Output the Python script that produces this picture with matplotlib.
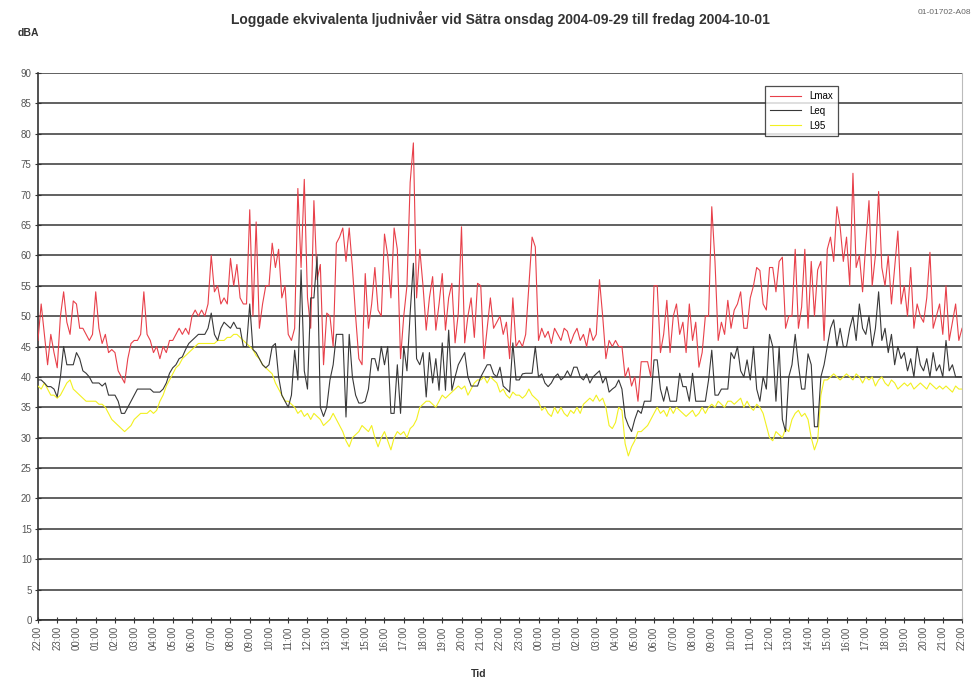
import matplotlib
matplotlib.use("Agg")
import matplotlib.pyplot as plt
import numpy as np

plt.rcParams['font.family'] = ['Liberation Sans', 'DejaVu Sans']

title = "Loggade ekvivalenta ljudnivåer vid Sätra onsdag 2004-09-29 till fredag 2004-10-01"
doc_id = "01-01702-A08"
y_label = "dBA"
x_label = "Tid"
series_names = ["Lmax", "Leq", "L95"]
hour_labels = [f"{(22 + h) % 24:02d}:00" for h in range(49)]

# 10-minute samples, 6 per hour, starting 22:00
lmax = [
    46, 52, 47, 42, 47, 44,
    41.5, 50, 54, 49, 47, 52.5,
    52, 48, 48, 47, 46, 47,
    54, 48, 45.5, 47, 44, 44.5,
    44, 41, 40, 39, 43, 45.5,
    46, 46, 47, 54, 47, 46,
    44, 45, 43, 45, 44, 46,
    46, 47, 48, 47, 48, 47,
    50, 51, 50, 51, 50, 52,
    60, 54, 55, 52, 53, 52,
    59.5, 55, 58.5, 53, 52, 52,
    67.5, 50, 65.5, 48, 52, 55,
    55, 62, 58, 61, 53, 55,
    47, 46, 48, 71, 58, 72.5,
    53, 48, 69, 56, 58.5, 42,
    50.5, 50, 45, 62, 63, 64.5,
    59, 64.5, 58, 50, 43, 42,
    57, 48, 52, 58, 51, 50,
    63.5, 60, 53, 64.5, 61, 43,
    50, 55, 72, 78.5, 53, 61,
    55, 47.7, 53, 56.5, 47.7, 52,
    57, 47.7, 53, 55.4, 45.6, 50.5,
    64.7, 45.6, 50, 53, 46.5, 55.4,
    55, 43, 48, 53, 48, 49,
    50, 47, 49, 43, 53, 45,
    46, 45, 47, 55, 63, 61.4,
    46, 48, 46.5, 47.5, 45.5, 48,
    47, 46, 48, 47.5, 45.5, 47,
    48, 46, 47, 45, 48, 46,
    47, 56, 50, 43, 46, 45,
    46, 45, 45, 40, 41.5, 38.5,
    40, 36, 42.5, 42.5, 42.5, 40,
    55, 55, 44, 47, 52.6, 44,
    50, 52, 47, 49, 44, 52,
    46, 49, 41.6, 44, 50, 50,
    68, 59, 46, 49, 47, 52.6,
    48, 51, 52, 54, 48, 48,
    53, 55, 58, 57.5, 52, 51,
    58, 58, 54, 59, 59.7, 48,
    50, 50, 61, 48, 51.5, 61,
    48, 59, 50, 57.6, 59, 46,
    61, 63, 59, 68, 64.7, 59,
    63, 55, 73.5, 58, 60, 54,
    62, 69, 55, 60, 70.5, 58,
    55, 60, 52, 58, 64, 52,
    55, 50, 58, 48, 52, 50,
    49, 53, 60.5, 48, 50, 52,
    47, 55, 46, 49, 52, 46,
    48,
]

leq = [
    39.5, 39.5, 39, 38.4, 38.4, 38,
    36.7, 40, 45, 42, 42, 42,
    44, 43, 41, 40.6, 40, 39,
    39, 39, 38.5, 39, 37, 37,
    37, 36, 34, 34, 35, 36,
    37, 38, 38, 38, 38, 38,
    37.5, 37.5, 37.5, 38, 39, 40.6,
    41.5, 42, 43, 43.3, 44.5, 45.5,
    46, 46.5, 47, 47, 47, 48,
    50.5, 47, 46, 48, 49, 48.5,
    48, 49, 48, 48, 45, 45,
    52, 44.5, 44, 43, 42, 41.5,
    42, 45, 45.5, 40, 37, 36,
    35, 37, 44.4, 39.5, 57.6, 41,
    38, 53, 53, 59.8, 35, 33.5,
    35, 39.5, 42, 47, 47, 47,
    33.4, 47, 40, 37, 35.7, 35.7,
    36, 38, 43, 43, 41, 45,
    42, 45, 34, 34, 42, 34,
    45, 41, 50.5, 58.7, 43, 42,
    44, 36.7, 44, 39, 43, 37.8,
    45.6, 37.8, 47.7, 37.8, 40, 42,
    43, 44, 40, 38.5, 38.5, 38.5,
    40, 41, 42, 42, 40.5, 40,
    41.6, 38.5, 38, 37.5, 45.6, 39.5,
    39.5, 40.5, 40.6, 40.6, 40.6, 45,
    40, 40.5, 39, 38.4, 39, 40,
    40.5, 39.5, 40, 41, 40, 41.6,
    41.6, 40, 39.5, 40.5, 39, 40,
    40.5, 41, 39, 40, 37.5, 38,
    38.4, 39.5, 38, 33.4, 32, 31,
    33, 34.5, 34, 36, 36, 36,
    42.8, 42.8, 38, 36, 38.4, 36,
    36, 36, 40.6, 38.4, 38.4, 36,
    40.6, 36, 36, 36, 36, 39.5,
    44.4, 37, 37, 38, 38, 38,
    44, 43, 45, 41, 40, 42.8,
    39.5, 45, 38, 36, 40, 38,
    47, 45, 36, 45, 33, 31,
    40, 42, 47, 42, 38, 38,
    43.8, 42, 31.8, 31.8, 40, 42,
    45, 48, 49.4, 45, 48, 45,
    45, 48, 50, 46, 52, 48,
    47, 50, 45, 48, 54, 46,
    48, 44, 47, 42, 45, 43,
    44, 41, 43, 40, 45, 42,
    41, 43, 40, 44, 41, 42,
    40, 46, 41, 42, 40, 40,
    40,
]

l95 = [
    38.5, 38, 39, 38, 37, 37,
    36.5, 37, 38, 39, 39.5, 38,
    37.5, 37, 36.5, 36, 36, 36,
    36, 35.5, 35.5, 35, 34, 33,
    32.5, 32, 31.5, 31, 31.5, 32,
    33, 33.5, 34, 34, 34, 34.5,
    34, 34.5, 36, 37, 38.5, 39.5,
    40.5, 41.5, 42, 43, 43.5, 44,
    44.5, 45, 45.5, 45.5, 45.5, 45.5,
    45.5, 45.5, 46, 46, 46, 46.5,
    46.5, 47, 47, 46.5, 46, 45.5,
    45, 44.5, 43.5, 43, 42, 41.5,
    41, 40.5, 39, 38, 37, 36,
    36, 35.5, 35, 34, 34.5, 33.5,
    34, 33, 34, 33.5, 33, 32,
    32.5, 33, 34, 33, 32, 31,
    29.5, 28.5, 30, 30.5, 31, 32,
    31.5, 31, 32, 30, 28.5, 30,
    31, 29.5, 28, 30, 31, 30.5,
    31, 30, 31.5, 32, 33, 35,
    35.5, 36, 36, 35.5, 35, 36,
    37, 36.5, 37, 37.5, 38, 38.5,
    38, 38.5, 37, 38, 39, 39.5,
    39.5, 40, 39, 40, 39.5, 39,
    37.5, 38, 37, 36.5, 37.5, 37,
    37, 36.5, 37, 38, 37, 36.5,
    36, 34.5, 35, 34, 33.5, 35,
    34, 35, 34, 33.5, 34.5, 34,
    35, 34, 35.5, 36, 36.5, 36,
    37, 36, 36.5, 35, 32, 31.5,
    32.5, 35, 34.5, 29, 27, 28.5,
    29.5, 31, 31, 31.5, 32, 33,
    34, 35, 34, 34.5, 33.5, 35,
    34, 35, 34.5, 34, 33.5, 34,
    34.5, 33.5, 34, 35, 34, 35,
    35.5, 35, 36, 35.5, 35, 36,
    36, 35.5, 36, 36.5, 35, 36,
    35, 34.5, 35.5, 35, 34, 32,
    30, 29.5, 31, 30.5, 30, 31.5,
    31, 33, 34, 34.5, 33.5, 34,
    33, 30, 28, 29.5, 37, 39.5,
    39.5, 40, 40.5, 40, 39.5, 40,
    40.5, 40, 39.5, 40.5, 40, 39,
    40, 39.5, 40, 38.5, 39.5, 40,
    39, 38.5, 39.5, 39, 38, 38.5,
    39, 38.5, 39, 38, 38.5, 39,
    38.5, 38, 39, 38.5, 38, 38.5,
    38, 38.5, 38, 37.5, 38.5, 38,
    38,
]

t = np.arange(len(lmax)) / 6.0

fig = plt.figure(figsize=(9.76, 6.83), dpi=100)
ax = fig.add_axes([0.0389, 0.0922, 0.9468, 0.8009])

ax.set_xlim(0, 48)
ax.set_ylim(0, 90)
ax.set_yticks(np.arange(0, 91, 5))
ax.set_yticklabels([str(v) for v in range(0, 91, 5)], fontsize=7, color="#555555")
ax.set_xticks(np.arange(49))
ax.set_xticklabels(hour_labels, rotation=90, fontsize=7, color="#555555")
ax.tick_params(axis="both", direction="inout", length=5, width=0.8, color="#333333", pad=2)

ax.yaxis.grid(True, color="#606060", linewidth=1.4)
ax.set_axisbelow(True)

ax.spines["top"].set_visible(False)
ax.spines["right"].set_color("#bbbbbb")
ax.spines["left"].set_color("#333333")
ax.spines["bottom"].set_color("#333333")
ax.spines["left"].set_linewidth(1.2)
ax.spines["bottom"].set_linewidth(1.2)

l1, = ax.plot(t, lmax, color="#e8404a", linewidth=0.8, label=series_names[0], zorder=3)
l3, = ax.plot(t, l95, color="#f2f020", linewidth=0.8, label=series_names[2], zorder=3)
l2, = ax.plot(t, leq, color="#383838", linewidth=0.8, label=series_names[1], zorder=4)

leg = ax.legend(handles=[l1, l2, l3], loc="upper left", bbox_to_anchor=(0.782, 0.985),
                fontsize=7, frameon=True, fancybox=False, edgecolor="#222222",
                handlelength=3.2, borderpad=0.5, labelspacing=0.5)
leg.get_frame().set_linewidth(0.9)

fig.text(0.513, 0.972, title, ha="center", va="center", fontsize=10, fontweight="bold", color="#333333")
fig.text(0.968, 0.982, doc_id, ha="center", va="center", fontsize=6, color="#666666")
fig.text(0.018, 0.952, y_label, ha="left", va="center", fontsize=7.5, fontweight="bold", color="#333333")
fig.text(0.49, 0.013, x_label, ha="center", va="center", fontsize=7.5, fontweight="bold", color="#333333")

fig.savefig("out.png", dpi=100)
